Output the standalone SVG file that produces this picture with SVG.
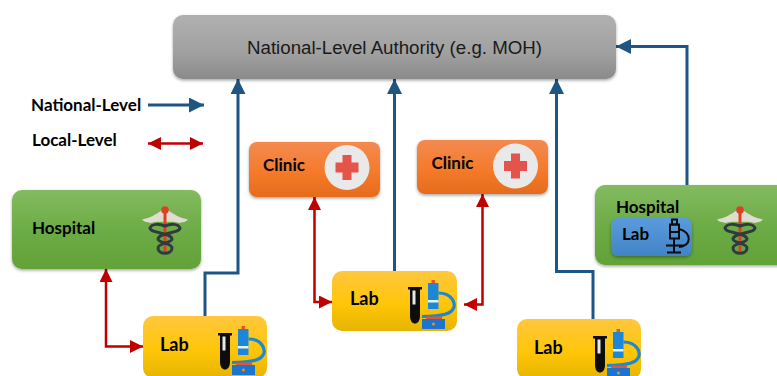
<svg xmlns="http://www.w3.org/2000/svg" xmlns:xlink="http://www.w3.org/1999/xlink" width="777" height="376" viewBox="0 0 777 376">
<defs>
<linearGradient id="gGray" x1="0" y1="0" x2="0" y2="1"><stop offset="0" stop-color="#b0b0b0"/><stop offset="0.6" stop-color="#a0a0a0"/><stop offset="1" stop-color="#8a8a8a"/></linearGradient>
<linearGradient id="gGreen" x1="0" y1="0" x2="0" y2="1"><stop offset="0" stop-color="#83bb60"/><stop offset="0.5" stop-color="#6dac46"/><stop offset="1" stop-color="#62a237"/></linearGradient>
<linearGradient id="gOrange" x1="0" y1="0" x2="0" y2="1"><stop offset="0" stop-color="#f38a50"/><stop offset="0.55" stop-color="#f57a2a"/><stop offset="1" stop-color="#e56c1c"/></linearGradient>
<linearGradient id="gYellow" x1="0" y1="0" x2="0" y2="1"><stop offset="0" stop-color="#ffc73d"/><stop offset="0.55" stop-color="#ffc608"/><stop offset="1" stop-color="#e6b400"/></linearGradient>
<linearGradient id="gBlue" x1="0" y1="0" x2="0" y2="1"><stop offset="0" stop-color="#5a9bdc"/><stop offset="1" stop-color="#4284c6"/></linearGradient>
<filter id="sh" x="-10%" y="-10%" width="120%" height="125%"><feDropShadow dx="0" dy="1.5" stdDeviation="1.5" flood-color="#000" flood-opacity="0.35"/></filter>
<marker id="aBlue" markerUnits="userSpaceOnUse" markerWidth="16" markerHeight="16" refX="15" refY="7.5" orient="auto-start-reverse"><path d="M0 0L15 7.5L0 15Z" fill="#1f5583"/></marker>
<marker id="aRed" markerUnits="userSpaceOnUse" markerWidth="14" markerHeight="14" refX="13" refY="6.500" orient="auto-start-reverse"><path d="M0 0L13 6.500L0 13Z" fill="#c00000"/></marker>
<g id="caduceus">
<path d="M-23 -8.500C-15 -10 -8 -14 -3 -18H3C8 -14 15 -10 23 -8.500C20 -5 18 -6.500 15 -5C10 -6.500 5 -6.500 1 -6H-1C-5 -6.500 -10 -6.500 -15 -5C-18 -6.500 -20 -5 -23 -8.500Z" fill="#e0dcd2"/>
<circle cx="0" cy="-18" r="3.800" fill="#dd4124"/>
<path d="M-1.500 -15H1.500V26H-1.500Z" fill="#dd4124"/>
<path d="M-15 0C-14 6 6 4 7 11C7 15 -7 15 -7 20C-7 27 7 27 7 20C7 15 -7 15 -7 11C-6 4 14 6 15 0C13 -5 5 -4 0 -2C-5 -4 -13 -5 -15 0Z" fill="none" stroke="#2f3b40" stroke-width="3"/>
</g>
<g id="plus">
<circle cx="0" cy="0" r="22.500" fill="#e9e9e9"/>
<path d="M-4.500 -12.500H4.500V-5H11.500V5H4.500V12.500H-4.500V5H-11.500V-5H-4.500Z" fill="#e5544b"/>
</g>
<g id="labIcon">
<path d="M-23 -19H-9V-16.500H-11V10C-11 20 -21 20 -21 10V-16.500H-23Z" fill="#0d0d0d"/>
<rect x="-18.500" y="-15.500" width="3" height="14" fill="#e8e8e8"/>
<rect x="-3" y="-23" width="10.500" height="26" fill="#1b87d6"/>
<rect x="-3" y="-6" width="10.500" height="2.500" fill="#e8f4fb"/>
<rect x="0.500" y="-26" width="3.500" height="3" fill="#e2572b"/>
<path d="M7.500 -13C21 -13 24 -3 23 1C21 8 12 10 -9 10.500" fill="none" stroke="#1b87d6" stroke-width="3.200"/>
<rect x="-5" y="10.500" width="16" height="3" fill="#e2572b"/>
<rect x="-9" y="13" width="23" height="10" fill="#1b75d0"/>
<circle cx="2.500" cy="18" r="1.600" fill="#f08a24"/>
</g>
</defs>
<style>
text{font-family:"Lato","Liberation Sans",sans-serif;font-weight:700;fill:#000;font-size:17px}
text.lab{font-size:18px}
.blue{fill:none;stroke:#1f5583;stroke-width:3}
.red{fill:none;stroke:#c00000;stroke-width:2.500}
</style>
<rect width="777" height="376" fill="#fff"/>
<g id="connectors">
<path class="blue" marker-end="url(#aBlue)" d="M205 316V273H238V79"/>
<path class="blue" marker-end="url(#aBlue)" d="M394.500 271V79"/>
<path class="blue" marker-end="url(#aBlue)" d="M593 319V271.500H556.500V79"/>
<path class="blue" marker-end="url(#aBlue)" d="M687 190V46.500H616"/>
<path class="red" marker-start="url(#aRed)" marker-end="url(#aRed)" d="M106 269V346.500H143"/>
<path class="red" marker-start="url(#aRed)" marker-end="url(#aRed)" d="M314.500 197V302H332"/>
<path class="red" marker-start="url(#aRed)" marker-end="url(#aRed)" d="M482.500 194V304.500H464"/>
</g>
<g id="legend">
<text x="31" y="111">National-Level</text>
<path class="blue" marker-end="url(#aBlue)" d="M148 105H204"/>
<text x="32" y="146">Local-Level</text>
<path class="red" marker-start="url(#aRed)" marker-end="url(#aRed)" d="M148 143.500H203"/>
</g>
<g id="authority">
<rect x="173" y="15" width="443" height="64" rx="10" fill="url(#gGray)" filter="url(#sh)"/>
<text x="394.500" y="53.500" text-anchor="middle" style="font-family:'Liberation Sans',sans-serif;font-weight:400;font-size:18.700px;fill:#1a1a1a">National-Level Authority (e.g. MOH)</text>
</g>
<g id="hospital-left">
<rect x="12" y="190" width="189" height="79" rx="10" fill="url(#gGreen)" filter="url(#sh)"/>
<text x="32" y="234">Hospital</text>
<use xlink:href="#caduceus" href="#caduceus" x="165" y="228"/>
</g>
<g id="clinic-1">
<rect x="249" y="142" width="131" height="55" rx="8" fill="url(#gOrange)" filter="url(#sh)"/>
<text x="263" y="171">Clinic</text>
<use xlink:href="#plus" href="#plus" x="347" y="167.500"/>
</g>
<g id="clinic-2">
<rect x="417" y="140" width="131" height="54" rx="8" fill="url(#gOrange)" filter="url(#sh)"/>
<text x="431.500" y="169">Clinic</text>
<use xlink:href="#plus" href="#plus" x="515.500" y="166"/>
</g>
<g id="lab-1">
<rect x="143" y="316" width="124" height="62" rx="10" fill="url(#gYellow)"/>
<text class="lab" x="160" y="351">Lab</text>
<use xlink:href="#labIcon" href="#labIcon" x="241" y="352"/>
</g>
<g id="lab-2">
<rect x="332" y="271" width="125" height="60" rx="10" fill="url(#gYellow)"/>
<text class="lab" x="350" y="305">Lab</text>
<use xlink:href="#labIcon" href="#labIcon" x="431" y="306"/>
</g>
<g id="lab-3">
<rect x="517" y="319" width="124" height="60" rx="10" fill="url(#gYellow)"/>
<text class="lab" x="534" y="354">Lab</text>
<use xlink:href="#labIcon" href="#labIcon" x="616" y="355"/>
</g>
<g id="hospital-right">
<rect x="595" y="185" width="195" height="80" rx="10" fill="url(#gGreen)" filter="url(#sh)"/>
<text x="616" y="213">Hospital</text>
<use xlink:href="#caduceus" href="#caduceus" x="740" y="228"/>
<rect x="611" y="218" width="81" height="38" rx="7" fill="url(#gBlue)" filter="url(#sh)"/>
<text x="622" y="240">Lab</text>
<g id="scope-icon" fill="none" stroke="#0d0d0d" stroke-width="2">
<rect x="672" y="219.500" width="5" height="5"/>
<rect x="670" y="224.500" width="9" height="14"/>
<path d="M670 232H679M679 229C693 232 691 247 679 247M666 245.500H684M674 239V252M667 252.500H681"/>
</g>
</g>
</svg>
